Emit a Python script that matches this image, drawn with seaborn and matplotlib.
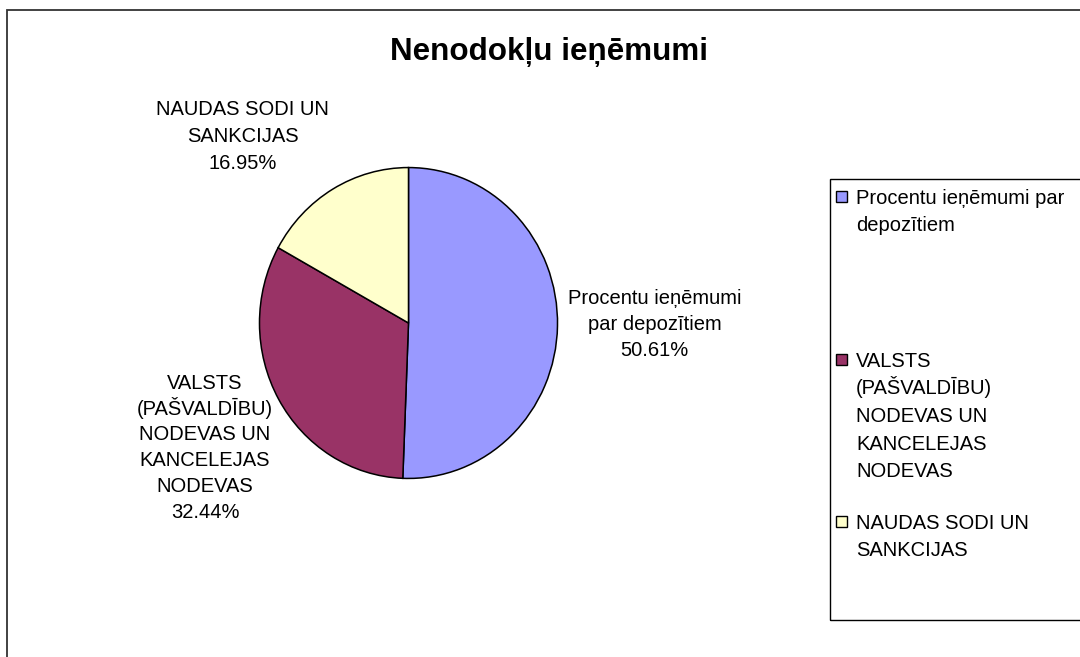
import matplotlib
matplotlib.use("Agg")
import matplotlib.pyplot as plt
import seaborn as sns
from matplotlib.patches import Rectangle

# data
title = "Nenodokļu ieņēmumi"
categories = [
    "Procentu ieņēmumi par depozītiem",
    "VALSTS (PAŠVALDĪBU) NODEVAS UN KANCELEJAS NODEVAS",
    "NAUDAS SODI UN SANKCIJAS",
]
shares = [50.61, 32.44, 16.95]
slice_labels = [
    "Procentu ieņēmumi\npar depozītiem",
    "VALSTS\n(PAŠVALDĪBU)\nNODEVAS UN\nKANCELEJAS\nNODEVAS",
    "NAUDAS SODI UN\nSANKCIJAS",
]
legend_labels = [
    "Procentu ieņēmumi par\ndepozītiem",
    "VALSTS\n(PAŠVALDĪBU)\nNODEVAS UN\nKANCELEJAS\nNODEVAS",
    "NAUDAS SODI UN\nSANKCIJAS",
]
colors = sns.color_palette(["#9999FF", "#993366", "#FFFFCC"])

# layout (pixels of the 1080x657 figure)
W, H = 1080, 657
label_pos = [(1.651, 0.0), (-1.365, -0.793), (-1.113, 1.21)]
label_step = [25.5, 25.8, 27]
legend_rows = [197, 360, 522]
legend_step = 27.5
fs = 14.5

sns.set_theme(style="white")
plt.rcParams["font.family"] = ["Liberation Sans", "DejaVu Sans"]


def fx(px):
    return px / W


def fy(py):
    return 1 - py / H


fig = plt.figure(figsize=(W / 100, H / 100), dpi=100)
fig.patch.set_facecolor("white")

# outer chart border (only top and left visible)
fig.patches.append(Rectangle((fx(7), fy(700)), fx(1200), 690 / H, transform=fig.transFigure,
                             fill=False, edgecolor="#333333", linewidth=1.3))

ax = fig.add_axes([fx(258), fy(480), fx(301), 314 / H])
wedges, _ = ax.pie(shares, colors=colors, startangle=90, counterclock=False,
                   wedgeprops=dict(edgecolor="black", linewidth=1.1))
ax.set_aspect("auto")
ax.set_xlim(-1.01, 1.01)
ax.set_ylim(-1.01, 1.01)

# data labels, one text per line so accented caps don't stretch the spacing
for lab, val, (x, y), step in zip(slice_labels, shares, label_pos, label_step):
    lines = f"{lab}\n{val:.2f}%".split("\n")
    n = len(lines)
    for i, line in enumerate(lines):
        dy = (i - (n - 1) / 2) * step + 7
        ax.annotate(line, xy=(x, y), xytext=(0, -dy), textcoords="offset pixels",
                    ha="center", va="baseline", fontsize=fs, color="black",
                    annotation_clip=False)

fig.text(fx(549), fy(52), title, ha="center", va="center",
         fontsize=22.6, fontweight="bold", color="black")

# legend box
fig.patches.append(Rectangle((fx(830), fy(620)), fx(400), 441 / H, transform=fig.transFigure,
                             fill=False, edgecolor="black", linewidth=1.0))
for lab, col, row in zip(legend_labels, colors, legend_rows):
    fig.patches.append(Rectangle((fx(836), fy(row + 5)), fx(11), 11 / H,
                                 transform=fig.transFigure, facecolor=col,
                                 edgecolor="black", linewidth=1.0))
    for i, line in enumerate(lab.split("\n")):
        fig.text(fx(856), fy(row + 7 + i * legend_step), line, ha="left", va="baseline",
                 fontsize=fs, color="black")

fig.savefig("out.png", dpi=100)
